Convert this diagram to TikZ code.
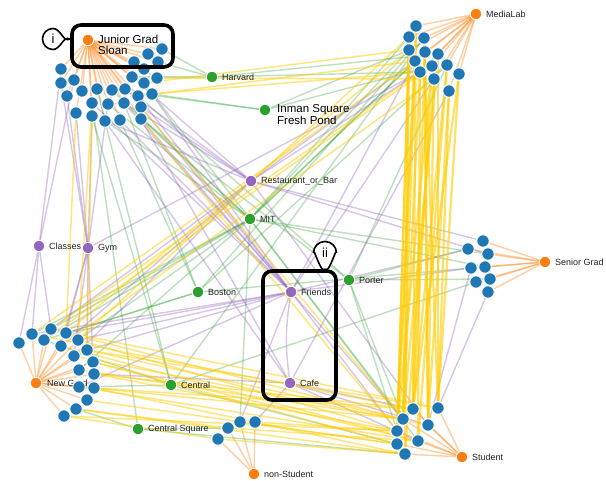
\documentclass[tikz,border=0pt]{standalone}
\usepackage{fontspec}
\setmainfont{Liberation Sans}
\usetikzlibrary{calc}
\definecolor{cblue}{HTML}{1F77B4}
\definecolor{corange}{HTML}{FF7F0E}
\definecolor{cgreen}{HTML}{2CA02C}
\definecolor{cpurple}{HTML}{9467BD}
\definecolor{cgold}{HTML}{FFCC00}
\definecolor{ctext}{HTML}{222222}
\pgfdeclarelayer{edges}
\pgfsetlayers{edges,main}
\begin{document}
\begin{tikzpicture}[x=1pt,y=-1pt,
  person/.style={circle,fill=cblue,draw=white,line width=0.9pt,minimum size=12.5pt,inner sep=0pt},
  hub/.style={circle,draw=white,line width=0.9pt,minimum size=11.5pt,inner sep=0pt},
  lbl/.style={anchor=west,inner sep=0pt,text=ctext,font=\fontsize{9}{10}\selectfont},
  biglbl/.style={anchor=west,inner sep=0pt,text=black,font=\fontsize{11.5}{12}\selectfont},
  eor/.style={draw=corange,opacity=0.38,line width=1.4pt},
  egr/.style={draw=cgreen,opacity=0.32,line width=1.4pt},
  epu/.style={draw=cpurple,opacity=0.38,line width=1.4pt},
  eye/.style={draw=cgold,opacity=0.5,line width=1.5pt},
  eyethick/.style={draw=cgold,opacity=0.6,line width=2.2pt},
  frame/.style={draw=black,line width=3.6pt,rounded corners=9pt,inner sep=0pt},
  bubble/.style={draw=black,fill=white,line width=1.6pt},
  tag/.style={inner sep=0pt,font=\fontsize{13}{13}\selectfont}]
\useasboundingbox (0,0) rectangle (606,481);

% attribute hubs
\node[hub,fill=corange] (jg)  at (88,40)   {};
\node[hub,fill=corange] (ml)  at (476,14)  {};
\node[hub,fill=corange] (sg)  at (545,262) {};
\node[hub,fill=corange] (ng)  at (36,383)  {};
\node[hub,fill=corange] (st)  at (462,457) {};
\node[hub,fill=corange] (nst) at (254,474) {};
\node[hub,fill=cgreen]  (hv)  at (212,77)  {};
\node[hub,fill=cgreen]  (inm) at (265,110) {};
\node[hub,fill=cgreen]  (mit) at (250,219) {};
\node[hub,fill=cgreen]  (po)  at (349,280) {};
\node[hub,fill=cgreen]  (bo)  at (198,292) {};
\node[hub,fill=cgreen]  (ce)  at (171,385) {};
\node[hub,fill=cgreen]  (cs)  at (138,429) {};
\node[hub,fill=cpurple] (rb)  at (251,181) {};
\node[hub,fill=cpurple] (cl)  at (39,246)  {};
\node[hub,fill=cpurple] (gym) at (88,248)  {};
\node[hub,fill=cpurple] (fr)  at (291,292) {};
\node[hub,fill=cpurple] (cafe) at (290,383) {};

% hub labels
\node[biglbl] (t-jg)  at (98,39)   {Junior Grad};
\node[biglbl] (t-sl)  at (98,50.5) {Sloan};
\node[biglbl] (t-inm) at (277,109.5) {Inman Square};
\node[biglbl] (t-fp)  at (277,120) {Fresh Pond};
\node[lbl] (t-ml)  at (486,14)  {MediaLab};
\node[lbl] (t-sg)  at (555,262) {Senior Grad};
\node[lbl] (t-ng)  at (47,383)  {New Grad};
\node[lbl] (t-st)  at (472,457) {Student};
\node[lbl] (t-nst) at (264,474) {non-Student};
\node[lbl] (t-hv)  at (222,77)  {Harvard};
\node[lbl] (t-mit) at (260,219) {MIT};
\node[lbl] (t-po)  at (359,280) {Porter};
\node[lbl] (t-bo)  at (208,292) {Boston};
\node[lbl] (t-ce)  at (181,385) {Central};
\node[lbl] (t-cs)  at (148,429) {Central Square};
\node[lbl] (t-rb)  at (261,181) {Restaurant\_or\_Bar};
\node[lbl] (t-cl)  at (49,246)  {Classes};
\node[lbl] (t-gym) at (98,248)  {Gym};
\node[lbl] (t-fr)  at (301,292) {Friends};
\node[lbl] (t-cafe) at (300,383) {Cafe};

% people
\foreach \x/\y [count=\i] in {162/49,148/54,158/62,134/62,144/69,157/78,132/77,144/83,152/94,138/96,
  125/89,124/103,141/107,141/119,120/120,105/121,92/116,76/113,108/104,92/103,112/90,97/89,82/91,
  67/96,74/80,61/69,61/83}
  \node[person] (tl\i) at (\x,\y) {};
\foreach \x/\y [count=\i] in {416/26,409/37,424/38,409/50,425/52,438/54,415/61,432/66,447/65,
  420/72,459/74,434/79,449/91}
  \node[person] (tr\i) at (\x,\y) {};
\foreach \x/\y [count=\i] in {483/241,468/249,488/254,471/268,485/267,490/279,476/282,488/292}
  \node[person] (sr\i) at (\x,\y) {};
\foreach \x/\y [count=\i] in {32/334,51/329,66/333,19/343,44/340,61/346,78/340,74/356,87/350,
  93/362,79/370,94/374,79/387,94/388,87/400,76/409,64/416}
  \node[person] (bl\i) at (\x,\y) {};
\foreach \x/\y [count=\i] in {438/408,413/409,403/419,428/425,397/431,418/441,397/444,405/454}
  \node[person] (br\i) at (\x,\y) {};
\foreach \x/\y [count=\i] in {228/428,240/422,255/422,218/439}
  \node[person] (ns\i) at (\x,\y) {};

\begin{pgfonlayer}{edges}
  % membership of each group
  \foreach \i in {1,...,27} \draw[eor] (jg) -- (tl\i);
  \foreach \i in {1,...,13} \draw[eor] (ml) -- (tr\i);
  \foreach \i in {1,...,8}  \draw[eor] (sg) -- (sr\i);
  \foreach \i in {1,...,17} \draw[eor] (ng) -- (bl\i);
  \foreach \i in {1,...,8}  \draw[eor] (st) -- (br\i);
  \foreach \i in {1,...,4}  \draw[eor] (nst) -- (ns\i);
  % places
  \foreach \a/\b in {mit/tl12,mit/tl16,mit/tl21,mit/tl8,mit/tl19,mit/tr4,mit/tr7,mit/tr5,mit/tr2,
    mit/sr3,mit/sr5,mit/bl1,mit/bl5,mit/bl7,mit/bl11,mit/bl2,mit/br3,mit/br6,mit/ns2,
    hv/tl1,hv/tl7,hv/tl3,hv/tr6,hv/tr10,
    inm/tl9,inm/tl21,inm/tr4,inm/tr8,
    po/sr2,po/sr6,po/br5,po/br3,po/tl14,po/tr9,po/tl10,
    bo/tl15,bo/tl12,bo/tr9,bo/bl3,bo/bl5,bo/sr4,bo/tr3,
    ce/bl13,ce/bl5,ce/tl17,ce/br7,ce/tr3,ce/sr7,ce/tl22,
    cs/bl16,cs/ns1,cs/br8,cs/tl20}
    \draw[egr] (\a) -- (\b);
  % activities
  \foreach \a/\b in {fr/tl13,fr/tl14,fr/tl10,fr/tl15,fr/tl9,fr/tl20,fr/tl12,fr/bl1,fr/bl3,fr/bl7,
    fr/bl9,fr/bl13,fr/sr2,fr/sr4,fr/tr12,fr/tr7,fr/br3,fr/br5,fr/ns2,
    rb/tl12,rb/tl13,rb/tl16,rb/tl11,rb/tl7,rb/tr10,rb/tr7,rb/sr1,rb/sr3,rb/bl2,rb/bl6,rb/bl8,rb/br4,
    gym/tl24,gym/tl27,gym/tl18,gym/tl19,gym/tl17,gym/bl3,gym/bl6,gym/bl9,gym/bl8,gym/bl10,gym/tr10,
    cl/tl26,cl/tl25,cl/bl4,cl/bl2,cl/bl1,
    cafe/br4,cafe/br6,cafe/br2,cafe/bl12,cafe/tl16,cafe/ns3,cafe/tr13,cafe/tl14,
    sr8/br1,sr4/br4}
    \draw[epu] (\a) -- (\b);
  \draw[epu] (fr) to[bend right=8] (cafe);
  % ties between people
  \foreach \a/\b in {tl9/tr10,tl6/tr12,tl10/tr7,tl8/tr4,
    bl1/tr7,bl2/tr10,bl3/tr4,bl5/tr8,bl7/tr2,bl6/tr12,
    tl14/br5,tl13/br3,tl17/bl9,tl20/bl7,tl18/bl3,
    bl7/br5,bl9/br3,bl10/br7,bl12/br5,bl14/br8,bl15/br7,bl16/br8,bl17/br5,bl11/br3,bl13/br2,
    bl8/br4,bl1/br2,bl2/br1,bl3/br3,bl6/br6,bl12/br2,bl10/br6,bl14/br3,bl9/br1,bl13/br6,
    bl17/ns4,bl16/ns1,ns3/br5,ns2/br7,ns4/br8,ns1/br6,tl12/tl19,tl21/tl11}
    \draw[eye] (\a) -- (\b);
  \foreach \a/\b in {tr1/br2,tr2/br3,tr3/br1,tr4/br5,tr5/br4,tr6/br1,tr7/br7,tr8/br2,tr9/br6,
    tr10/br3,tr11/br1,tr12/br4,tr13/br1,tr1/br5,tr2/br7,tr4/br8,tr5/br2,tr7/br3,tr10/br6,
    tr12/br8,tr3/br4,tr8/br5,tr9/br2,tr6/br3,tr13/br4,tr11/br2}
    \draw[eyethick] (\a) -- (\b);
\end{pgfonlayer}

% highlight frames with their tags
\node[frame,minimum width=101pt,minimum height=42pt] (boxi) at (122.5,46) {};
\draw[bubble] (70,39) to[out=210,in=0] (53,28.5)
  arc[start angle=270,end angle=90,radius=10.5] to[out=0,in=150] (70,39);
\node[tag] (tagi) at (53,39) {i};
\node[frame,minimum width=73pt,minimum height=129pt] (boxii) at (299.5,335.5) {};
\draw[bubble] (325,269) to[out=240,in=90] (313.5,253)
  arc[start angle=180,end angle=360,radius=11.5] to[out=90,in=300] (325,269);
\node[tag] (tagii) at (325,253) {ii};
\end{tikzpicture}
\end{document}
